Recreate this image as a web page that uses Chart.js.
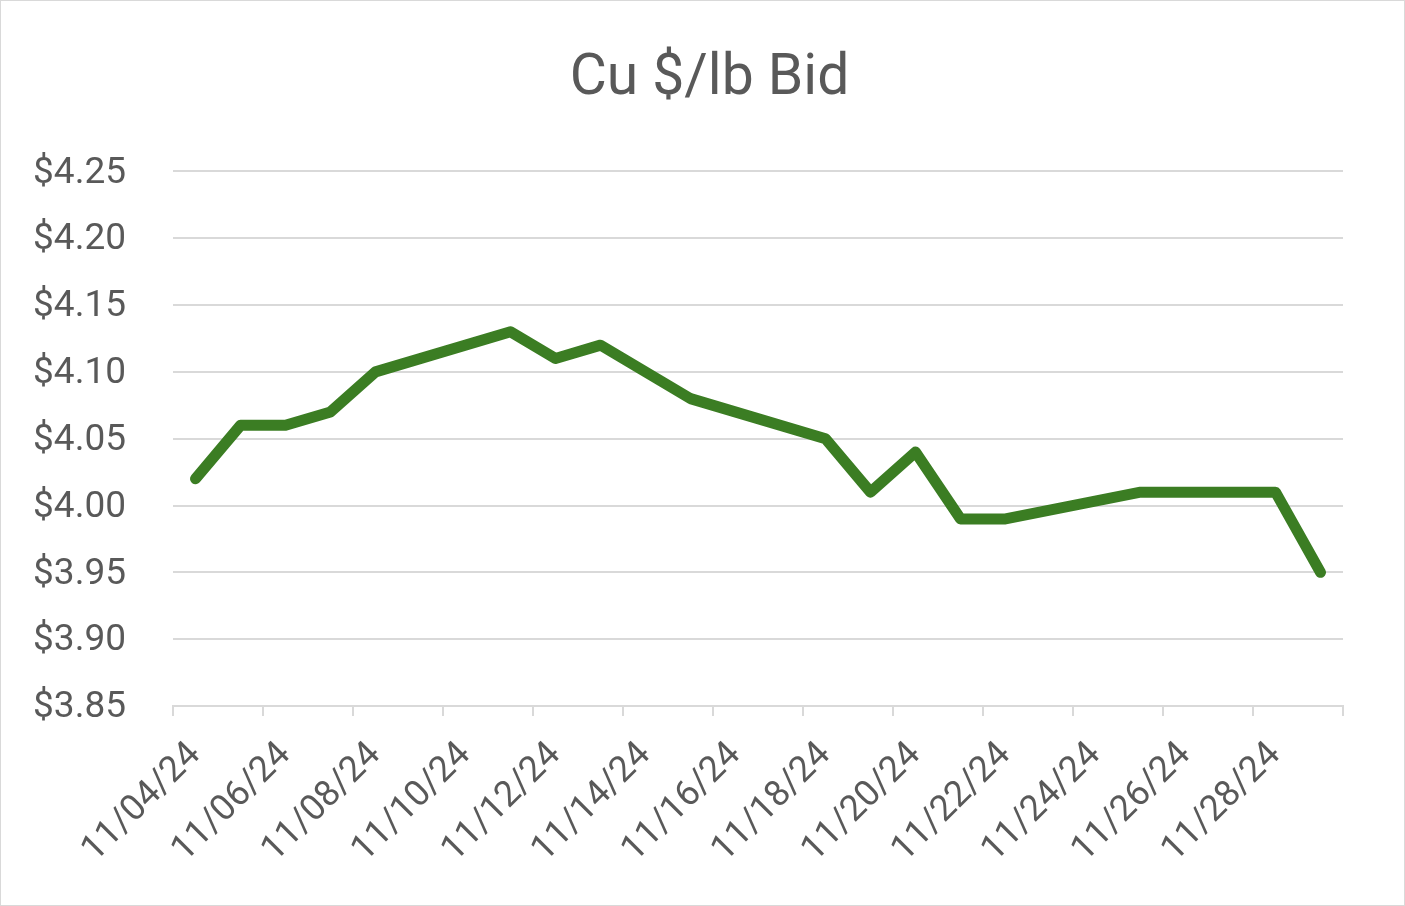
<!DOCTYPE html>
<html>
<head>
<meta charset="utf-8">
<title>Cu $/lb Bid</title>
<script src="https://cdn.jsdelivr.net/npm/chart.js@4"></script>
<style>
  html, body { margin: 0; padding: 0; background: #fff; }
  #wrap { width: 1403px; height: 904px; border: 1px solid #d9d9d9; }
</style>
</head>
<body>
<div id="wrap"><canvas id="cuChart" width="1403" height="904"></canvas></div>
<script>
// trading days, weekends left empty (null) like Excel's date axis
const dates = [
  "11/04/24", "11/05/24", "11/06/24", "11/07/24", "11/08/24", "11/09/24", "11/10/24",
  "11/11/24", "11/12/24", "11/13/24", "11/14/24", "11/15/24", "11/16/24", "11/17/24",
  "11/18/24", "11/19/24", "11/20/24", "11/21/24", "11/22/24", "11/23/24", "11/24/24",
  "11/25/24", "11/26/24", "11/27/24", "11/28/24", "11/29/24"
];
const bidPrices = [
  4.02, 4.06, 4.06, 4.07, 4.10, null, null,
  4.13, 4.11, 4.12, 4.10, 4.08, null, null,
  4.05, 4.01, 4.04, 3.99, 3.99, null, null,
  4.01, 4.01, 4.01, 4.01, 3.95
];
const yMin = 3.85;
const yMax = 4.25;
const yStep = 0.05;

const textColor = "#595959";
const lineColor = "#d9d9d9";

const ctx = document.getElementById("cuChart").getContext("2d");
new Chart(ctx, {
  type: "line",
  data: {
    labels: dates,
    datasets: [
      {
        label: "Cu $/lb Bid",
        data: bidPrices,
        borderColor: "#3b7d23",
        borderWidth: 11,
        borderCapStyle: "round",
        borderJoinStyle: "round",
        pointRadius: 0,
        spanGaps: true,
        tension: 0,
      },
    ],
  },
  options: {
    responsive: false,
    animation: false,
    layout: { padding: { left: 14, right: 0, top: 0, bottom: 0 } },
    plugins: {
      legend: { display: false },
      tooltip: { enabled: false },
      title: {
        display: true,
        text: "Cu $/lb Bid",
        color: textColor,
        font: { family: "Roboto", size: 57, weight: "normal" },
        padding: { top: 45, bottom: 57 },
      },
    },
    scales: {
      x: {
        offset: true,
        grid: {
          offset: true,
          drawOnChartArea: false,
          drawTicks: true,
          tickLength: 10,
          lineWidth: 2,
          // tick marks only every 2 days (plus the closing one)
          color: (c) => (c.index === undefined || c.index % 2 === 0 ? lineColor : "rgba(0,0,0,0)"),
        },
        border: { display: true, color: lineColor, width: 2 },
        ticks: {
          autoSkip: false,
          maxRotation: 45,
          minRotation: 45,
          padding: 18,
          color: textColor,
          font: { family: "Roboto", size: 36 },
          callback: function (value, index) {
            return index % 2 === 0 ? this.getLabelForValue(value) : "";
          },
        },
        afterFit: (scale) => { scale.height = 199; },
      },
      y: {
        min: yMin,
        max: yMax,
        grid: { color: lineColor, lineWidth: 2, drawTicks: false },
        border: { display: false },
        ticks: {
          stepSize: yStep,
          padding: 47,
          labelOffset: 2,
          color: textColor,
          font: { family: "Roboto", size: 37 },
          callback: (v) => "$" + Number(v).toFixed(2),
        },
        afterFit: (scale) => { scale.width = 158; },
      },
      // empty right axis only reserves the blank margin on the right
      yRight: {
        position: "right",
        min: yMin,
        max: yMax,
        grid: { drawOnChartArea: false, drawTicks: false },
        border: { display: false },
        ticks: { display: false },
        afterFit: (scale) => { scale.width = 61; },
      },
    },
  },
});
</script>
</body>
</html>
